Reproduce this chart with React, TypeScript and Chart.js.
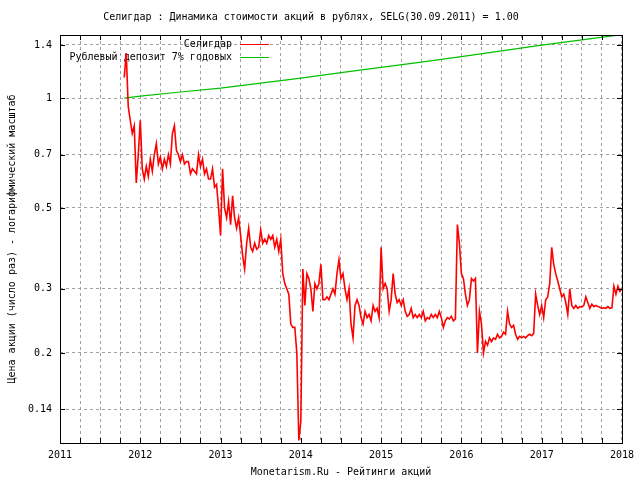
import React, { useEffect, useRef } from "react";
import { Chart, registerables } from "chart.js";

Chart.register(...registerables);

const TITLE = "Селигдар : Динамика стоимости акций в рублях, SELG(30.09.2011) = 1.00";
const X_TITLE = "Monetarism.Ru - Рейтинги акций";
const Y_TITLE = "Цена акции (число раз) - логарифмический масштаб";
const SERIES_NAMES = ["Селигдар", "Рублевый депозит 7% годовых"];
const SERIES_COLORS = ["#ff0000", "#00c000"];

const YEAR_TICKS = [2011, 2012, 2013, 2014, 2015, 2016, 2017, 2018];
const Y_TICKS = [0.14, 0.2, 0.3, 0.5, 0.7, 1, 1.4];
const Y_MIN = 0.1132;
const Y_MAX = 1.491;

// Seligdar share price relative to 30.09.2011, sampled every 0.025 year from 2011.8
const SELG_START = 2011.8;
const SELG_STEP = 0.025;
const SELG = [
  1.14, 1.33, 0.95, 0.87, 0.8, 0.84, 0.585, 0.7, 0.87, 0.64,
  0.6, 0.65, 0.61, 0.68, 0.63, 0.7, 0.75, 0.66, 0.69, 0.64,
  0.68, 0.65, 0.7, 0.66, 0.8, 0.84, 0.72, 0.7, 0.67, 0.7,
  0.66, 0.67, 0.67, 0.62, 0.64, 0.63, 0.62, 0.7, 0.65, 0.68,
  0.62, 0.64, 0.6, 0.6, 0.64, 0.57, 0.58, 0.5, 0.42, 0.64,
  0.5, 0.47, 0.52, 0.45, 0.54, 0.47, 0.44, 0.47, 0.42, 0.37,
  0.34, 0.4, 0.44, 0.39, 0.38, 0.4, 0.385, 0.39, 0.435, 0.4,
  0.41, 0.4, 0.42, 0.41, 0.42, 0.39, 0.41, 0.38, 0.41, 0.33,
  0.31, 0.3, 0.29, 0.24, 0.235, 0.235, 0.2, 0.115, 0.13, 0.34,
  0.27, 0.33, 0.32, 0.3, 0.26, 0.31, 0.3, 0.31, 0.35, 0.28,
  0.28, 0.285, 0.28, 0.29, 0.3, 0.29, 0.33, 0.36, 0.32, 0.33,
  0.3, 0.28, 0.3, 0.24, 0.22, 0.27, 0.28, 0.27, 0.25, 0.24,
  0.26, 0.25, 0.255, 0.245, 0.27, 0.26, 0.265, 0.25, 0.39, 0.3,
  0.31, 0.3, 0.26, 0.28, 0.33, 0.29, 0.275, 0.28, 0.27, 0.28,
  0.26, 0.252, 0.255, 0.265, 0.25, 0.255, 0.25, 0.255, 0.25, 0.26,
  0.245, 0.25, 0.248, 0.255, 0.25, 0.255, 0.25, 0.26, 0.25, 0.235,
  0.245, 0.25, 0.248, 0.252, 0.245, 0.248, 0.45, 0.4, 0.33, 0.32,
  0.29, 0.27, 0.28, 0.32, 0.315, 0.32, 0.2, 0.26, 0.24, 0.2,
  0.215, 0.21, 0.22, 0.215, 0.22, 0.218, 0.225, 0.22, 0.222, 0.228,
  0.225, 0.26, 0.24, 0.235, 0.238, 0.225, 0.218, 0.222, 0.22, 0.222,
  0.22, 0.223, 0.225, 0.223, 0.226, 0.29, 0.27, 0.255, 0.27, 0.25,
  0.28, 0.285, 0.31, 0.39, 0.35, 0.33, 0.315, 0.3, 0.285, 0.29,
  0.275, 0.255, 0.3, 0.27, 0.265, 0.27, 0.265, 0.268, 0.267, 0.27,
  0.285, 0.275, 0.265, 0.272, 0.268, 0.27, 0.268, 0.267, 0.265, 0.266,
  0.265, 0.268, 0.265, 0.266, 0.305, 0.29, 0.305, 0.295, 0.3,
];

// Ruble deposit at 7% a year
const DEPOSIT_YEARS = [2011.8, 2012.0, 2012.5, 2013.0, 2013.5, 2014.0, 2014.5, 2015.0, 2015.5, 2016.0, 2016.5, 2017.0, 2017.5, 2018.0];
const DEPOSIT = [1.0, 1.013, 1.04, 1.066, 1.1, 1.135, 1.175, 1.215, 1.256, 1.3, 1.348, 1.398, 1.445, 1.495];

const FONT_FAMILY = "'DejaVu Sans Mono', 'Liberation Mono', monospace";
const FONT = { family: FONT_FAMILY, size: 10, lineHeight: 1.2 };

const quarterTicks: number[] = [];
YEAR_TICKS.forEach((y, i) => {
  if (i < YEAR_TICKS.length - 1) {
    [0, 0.25, 0.5, 0.75].forEach((q) => quarterTicks.push(y + q));
  } else {
    quarterTicks.push(y);
  }
});

const gnuLegend = {
  id: "gnuLegend",
  beforeDatasetsDraw(chart: any) {
    const { ctx, chartArea } = chart;
    ctx.save();
    ctx.font = `10px ${FONT_FAMILY}`;
    ctx.textAlign = "right";
    ctx.textBaseline = "middle";
    chart.data.datasets.forEach((ds: any, i: number) => {
      const y = chartArea.top + 9.5 + i * 13;
      ctx.fillStyle = "#000";
      ctx.fillText(ds.label, chartArea.left + 172, y);
      ctx.strokeStyle = ds.borderColor;
      ctx.lineWidth = 1;
      ctx.beginPath();
      ctx.moveTo(chartArea.left + 180, y);
      ctx.lineTo(chartArea.left + 209, y);
      ctx.stroke();
    });
    ctx.restore();
  },
};

const gnuFrame = {
  id: "gnuFrame",
  afterDatasetsDraw(chart: any) {
    const { ctx, chartArea } = chart;
    const { left, right, top, bottom } = chartArea;
    const xs = chart.scales.x;
    const ys = chart.scales.y;
    ctx.save();
    ctx.strokeStyle = "#000";
    ctx.lineWidth = 1;
    ctx.beginPath();
    quarterTicks.forEach((v) => {
      const px = Math.round(xs.getPixelForValue(v)) + 0.5;
      ctx.moveTo(px, bottom);
      ctx.lineTo(px, bottom - 5);
      ctx.moveTo(px, top);
      ctx.lineTo(px, top + 5);
    });
    Y_TICKS.forEach((v) => {
      const py = Math.round(ys.getPixelForValue(v)) + 0.5;
      ctx.moveTo(left, py);
      ctx.lineTo(left + 5, py);
      ctx.moveTo(right, py);
      ctx.lineTo(right - 5, py);
    });
    ctx.stroke();
    ctx.strokeRect(Math.round(left) + 0.5, Math.round(top) + 0.5, Math.round(right - left), Math.round(bottom - top));
    ctx.restore();
  },
};

export default function App() {
  const canvasRef = useRef<HTMLCanvasElement | null>(null);

  useEffect(() => {
    const canvas = canvasRef.current;
    if (!canvas) return;
    const chart = new Chart(canvas, {
      type: "line",
      data: {
        datasets: [
          {
            label: SERIES_NAMES[0],
            data: SELG.map((v, i) => ({ x: SELG_START + i * SELG_STEP, y: v })),
            borderColor: SERIES_COLORS[0],
            backgroundColor: SERIES_COLORS[0],
            borderWidth: 1.6,
            pointRadius: 0,
            tension: 0,
          },
          {
            label: SERIES_NAMES[1],
            data: DEPOSIT.map((v, i) => ({ x: DEPOSIT_YEARS[i], y: v })),
            borderColor: SERIES_COLORS[1],
            backgroundColor: SERIES_COLORS[1],
            borderWidth: 1.2,
            pointRadius: 0,
            tension: 0,
          },
        ],
      },
      options: {
        responsive: false,
        animation: false,
        devicePixelRatio: 1,
        layout: { padding: { top: 0, right: 18, bottom: 0, left: 0 } },
        plugins: {
          legend: { display: false },
          tooltip: { enabled: false },
          title: {
            display: true,
            text: TITLE,
            color: "#000",
            font: { ...FONT, weight: "normal" },
            padding: { top: 11, bottom: 12 },
          },
        },
        scales: {
          x: {
            type: "linear",
            min: YEAR_TICKS[0],
            max: YEAR_TICKS[YEAR_TICKS.length - 1],
            afterBuildTicks: (scale: any) => {
              scale.ticks = quarterTicks.map((v) => ({ value: v }));
            },
            afterFit: (scale: any) => {
              scale.height = 37;
            },
            ticks: {
              autoSkip: false,
              maxRotation: 0,
              minRotation: 0,
              padding: 6,
              color: "#000",
              font: FONT,
              callback: (v: any) => (Number.isInteger(Number(v)) ? String(v) : ""),
            },
            grid: {
              color: "#a0a0a0",
              lineWidth: 1,
              drawTicks: false,
            },
            border: { display: false, dash: [3, 3] },
            title: {
              display: true,
              text: X_TITLE,
              color: "#000",
              font: FONT,
              padding: { top: 0, bottom: 2 },
            },
          },
          y: {
            type: "logarithmic",
            min: Y_MIN,
            max: Y_MAX,
            afterBuildTicks: (scale: any) => {
              scale.ticks = Y_TICKS.map((v) => ({ value: v }));
            },
            afterFit: (scale: any) => {
              scale.width = 60;
            },
            ticks: {
              autoSkip: false,
              padding: 8,
              color: "#000",
              font: FONT,
              callback: (v: any) => String(v),
            },
            grid: {
              color: "#a0a0a0",
              lineWidth: 1,
              drawTicks: false,
            },
            border: { display: false, dash: [3, 3] },
            title: {
              display: true,
              text: Y_TITLE,
              color: "#000",
              font: FONT,
              padding: { top: 6, bottom: 0 },
            },
          },
        },
      },
      plugins: [gnuLegend, gnuFrame],
    });
    return () => chart.destroy();
  }, []);

  return (
    <div style={{ position: "fixed", left: 0, top: 0, width: 640, height: 480, background: "#fff" }}>
      <canvas ref={canvasRef} width={640} height={480} style={{ width: 640, height: 480 }} />
    </div>
  );
}
